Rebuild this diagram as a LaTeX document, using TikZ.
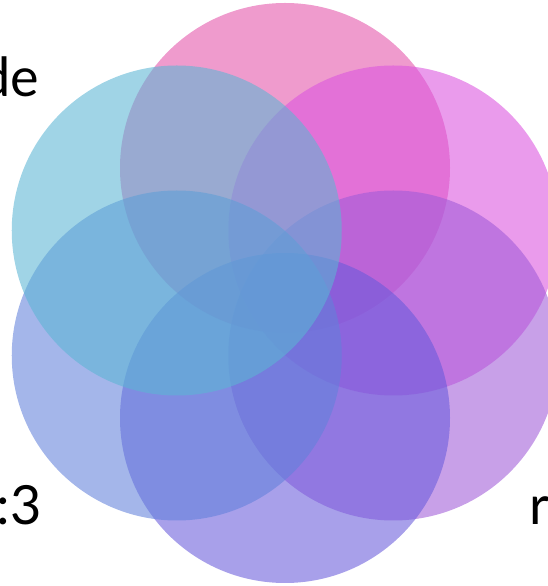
\documentclass[tikz,border=0pt]{standalone}
\usepackage{fontspec}
\setmainfont{Lato}
\usepackage{tikz}
\usetikzlibrary{positioning,calc}
\definecolor{petalpink}{RGB}{227,83,169}
\definecolor{petalmagenta}{RGB}{219,83,222}
\definecolor{petalpurple}{RGB}{160,91,216}
\definecolor{petalviolet}{RGB}{105,91,219}
\definecolor{petalblue}{RGB}{98,129,219}
\definecolor{petalcyan}{RGB}{91,181,212}

\begin{document}
\begin{tikzpicture}[
    x=1pt, y=1pt,
    every node/.style={font=\fontsize{54}{60}\selectfont},
    petal/.style={circle, draw=none, fill opacity=0.58, minimum size=330pt, inner sep=0pt},
    tag/.style={inner sep=0pt, text=black}
]
    \useasboundingbox (0,0) rectangle (548,586);
    \coordinate (hub) at (285,293);

    \foreach \ang/\col [count=\i] in {90/petalpink, 30/petalmagenta, -30/petalpurple, -90/petalviolet, -150/petalblue, 150/petalcyan}
        \node (petal\i) [petal, fill=\col] at ($(hub)+(\ang:125)$) {};

    \node (tagde) [tag, anchor=base east] at (39,489) {de};
    \node (tagthree) [tag, anchor=base east] at (42,61) {:3};
    \node (tagr) [tag, anchor=base west] at (529,61) {r};

\end{tikzpicture}
\end{document}
